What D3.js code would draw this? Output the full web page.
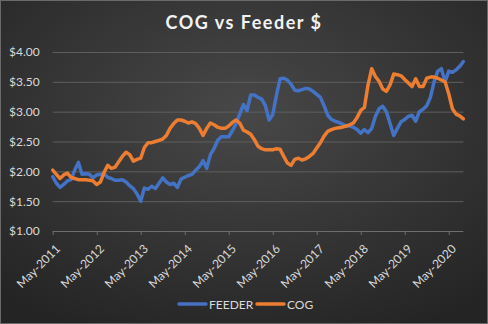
<!DOCTYPE html>
<html>
<head>
<meta charset="utf-8">
<script src="https://cdn.jsdelivr.net/npm/d3@7/dist/d3.min.js"></script>
<style>
  html, body { margin: 0; padding: 0; background: #2a2a2a; }
  svg { display: block; }
  text { font-family: Lato, "Open Sans", sans-serif; }
</style>
</head>
<body>
<svg id="chart" width="488" height="324"></svg>
<script>
// Monthly observations, May-2011 through Sep-2020
const startMonth = new Date(2011, 4, 1);
const endMonth = new Date(2020, 8, 1);

const feeder = [
  1.91, 1.80, 1.73, 1.78, 1.84, 1.86, 2.02, 2.15, 1.95, 1.96, 1.95, 1.89,
  1.94, 1.95, 1.96, 1.90, 1.88, 1.85, 1.85, 1.86, 1.82, 1.76, 1.71, 1.62,
  1.50, 1.72, 1.70, 1.75, 1.71, 1.80, 1.89, 1.82, 1.78, 1.80, 1.73, 1.87,
  1.90, 1.93, 1.95, 2.02, 2.08, 2.18, 2.05, 2.28, 2.38, 2.52, 2.58, 2.58,
  2.58, 2.68, 2.80, 2.96, 3.12, 3.02, 3.28, 3.28, 3.24, 3.21, 3.10, 2.86,
  2.95, 3.27, 3.55, 3.56, 3.53, 3.46, 3.36, 3.35, 3.37, 3.39, 3.38, 3.34,
  3.29, 3.24, 3.10, 2.94, 2.87, 2.84, 2.82, 2.79, 2.76, 2.76, 2.74, 2.70,
  2.64, 2.70, 2.65, 2.72, 2.92, 3.05, 3.09, 3.00, 2.80, 2.60, 2.72, 2.83,
  2.87, 2.92, 2.94, 2.84, 3.00, 3.04, 3.10, 3.24, 3.50, 3.68, 3.72, 3.50,
  3.68, 3.66, 3.70, 3.76, 3.84
];

const cog = [
  2.02, 1.95, 1.88, 1.94, 1.97, 1.90, 1.88, 1.86, 1.86, 1.86, 1.85, 1.84,
  1.78, 1.82, 1.98, 2.10, 2.05, 2.07, 2.16, 2.25, 2.32, 2.28, 2.17, 2.20,
  2.22, 2.40, 2.48, 2.48, 2.50, 2.52, 2.54, 2.60, 2.72, 2.80, 2.86, 2.86,
  2.84, 2.81, 2.83, 2.80, 2.72, 2.60, 2.72, 2.81, 2.78, 2.74, 2.72, 2.72,
  2.76, 2.82, 2.86, 2.81, 2.69, 2.66, 2.62, 2.53, 2.42, 2.38, 2.36, 2.36,
  2.36, 2.38, 2.37, 2.25, 2.14, 2.10, 2.20, 2.22, 2.19, 2.21, 2.25, 2.30,
  2.39, 2.48, 2.59, 2.67, 2.70, 2.72, 2.73, 2.74, 2.76, 2.78, 2.81, 2.90,
  3.02, 3.07, 3.45, 3.72, 3.59, 3.51, 3.38, 3.34, 3.45, 3.63, 3.62, 3.60,
  3.54, 3.48, 3.42, 3.55, 3.42, 3.42, 3.56, 3.58, 3.58, 3.56, 3.53, 3.50,
  3.30, 3.05, 2.96, 2.93, 2.88
];

const yTicks = [1.00, 1.50, 2.00, 2.50, 3.00, 3.50, 4.00];
const xTickLabels = ["May-2011", "May-2012", "May-2013", "May-2014", "May-2015",
                     "May-2016", "May-2017", "May-2018", "May-2019", "May-2020"];

const seriesNames = ["FEEDER", "COG"];
const seriesColors = ["#4472C4", "#ED7D31"];

const W = 488, H = 324;
const plot = { left: 52.7, right: 463.4, top: 52, bottom: 231 };

const months = d3.timeMonth.range(startMonth, d3.timeMonth.offset(endMonth, 1));
const fmt = d3.timeFormat("%b-%Y");
const labels = months.map(fmt);

const svg = d3.select("#chart");

// Chart area background: soft radial glow on charcoal
const defs = svg.append("defs");
const grad = defs.append("radialGradient")
  .attr("id", "bg").attr("cx", "50%").attr("cy", "35%").attr("r", "75%");
grad.append("stop").attr("offset", "0%").attr("stop-color", "#484848");
grad.append("stop").attr("offset", "100%").attr("stop-color", "#242424");

svg.append("rect").attr("x", 0).attr("y", 0).attr("width", W).attr("height", H)
  .attr("fill", "url(#bg)");
svg.append("rect").attr("x", 0.5).attr("y", 0.5).attr("width", W - 1).attr("height", H - 1)
  .attr("fill", "none").attr("stroke", "#6a6a6a").attr("stroke-width", 1);

const x = d3.scalePoint().domain(labels).range([plot.left, plot.right]);
const y = d3.scaleLinear().domain([1, 4]).range([plot.bottom, plot.top]);

// Horizontal gridlines + value axis labels
const yAxis = d3.axisLeft(y).tickValues(yTicks)
  .tickSize(-(plot.right - plot.left)).tickPadding(13)
  .tickFormat(d => "$" + d3.format(".2f")(d));
const gy = svg.append("g").attr("transform", `translate(${plot.left},0)`).call(yAxis);
gy.select(".domain").remove();
gy.selectAll(".tick line").attr("stroke", "#5e5e5e").attr("stroke-width", 1)
  .filter(d => d === 1).remove();
gy.selectAll(".tick text").attr("fill", "#d9d9d9").style("font-size", "12px");

// Category axis with yearly ticks
const xAxis = d3.axisBottom(x)
  .tickValues(xTickLabels)
  .tickSize(4).tickPadding(4);
const gx = svg.append("g").attr("transform", `translate(0,${plot.bottom})`).call(xAxis);
gx.select(".domain").attr("stroke", "#6e6e6e")
  .attr("d", `M${plot.left},0.5H${plot.right}`);
gx.selectAll(".tick line").attr("stroke", "#6e6e6e");
gx.selectAll(".tick text")
  .attr("fill", "#d9d9d9").style("font-size", "12px")
  .attr("text-anchor", "end")
  .attr("dx", 0).attr("dy", 0)
  .attr("transform", "translate(2,13) rotate(-45)");

// Series lines
const line = d3.line()
  .x((d, i) => x(labels[i]))
  .y(d => y(d));

[feeder, cog].forEach((vals, k) => {
  svg.append("path").datum(vals)
    .attr("fill", "none")
    .attr("stroke", seriesColors[k])
    .attr("stroke-width", 3.5)
    .attr("stroke-linejoin", "round")
    .attr("stroke-linecap", "round")
    .attr("d", line);
});

// Title
svg.append("text")
  .attr("x", W / 2).attr("y", 29)
  .attr("text-anchor", "middle")
  .attr("fill", "#f2f2f2")
  .style("font-size", "18px").style("font-weight", "bold")
  .style("letter-spacing", "1.5px")
  .text("COG vs Feeder $");

// Legend
const legend = svg.append("g");
const legendItems = [
  { name: seriesNames[0], color: seriesColors[0], x: 179 },
  { name: seriesNames[1], color: seriesColors[1], x: 257 }
];
legendItems.forEach(it => {
  legend.append("line")
    .attr("x1", it.x).attr("x2", it.x + 27)
    .attr("y1", 304).attr("y2", 304)
    .attr("stroke", it.color).attr("stroke-width", 3.5)
    .attr("stroke-linecap", "round");
  legend.append("text")
    .attr("x", it.x + 30).attr("y", 308.5)
    .attr("fill", "#d9d9d9").style("font-size", "12px")
    .text(it.name);
});
</script>
</body>
</html>
